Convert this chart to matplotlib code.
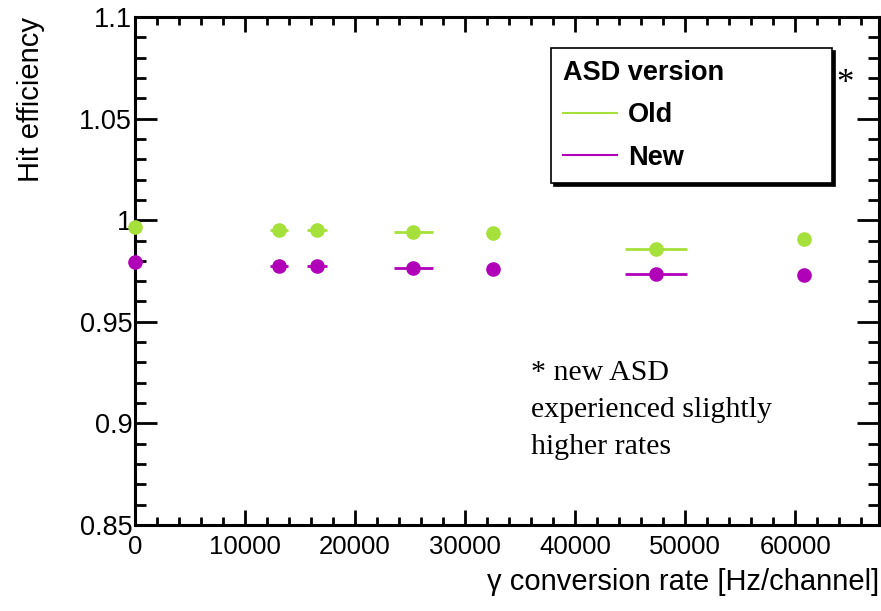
import numpy as np
import matplotlib
matplotlib.use("Agg")
import matplotlib.pyplot as plt
from matplotlib.lines import Line2D
from matplotlib.ticker import MultipleLocator

plt.rcParams['font.family'] = ['Liberation Sans', 'DejaVu Sans']

# gamma conversion rate [Hz/channel] and hit efficiency
rate = [0, 13100, 16550, 25300, 32550, 47350, 60800]
rate_err = [0, 800, 900, 1750, 0, 2850, 0]
eff_old = [0.9967, 0.9951, 0.9951, 0.9942, 0.9936, 0.9857, 0.9906]
eff_new = [0.9793, 0.9773, 0.9773, 0.9764, 0.9759, 0.9734, 0.9730]

col_old = '#a6e03a'
col_new = '#b000b8'

fig = plt.figure(figsize=(8.81, 6.11), dpi=100)
ax = fig.add_axes([0.1532, 0.1407, 0.8445, 0.8315])

for y, c in [(eff_old, col_old), (eff_new, col_new)]:
    ax.errorbar(rate, y, xerr=rate_err, fmt='o', color=c, ms=9.5,
                elinewidth=2, capsize=0, clip_on=False, zorder=3)

ax.set_xlim(0, 67600)
ax.set_ylim(0.85, 1.1)
ax.xaxis.set_minor_locator(MultipleLocator(2000))
ax.yaxis.set_minor_locator(MultipleLocator(0.01))
ax.set_yticks([0.85, 0.9, 0.95, 1.0, 1.05, 1.1])
ax.set_yticklabels(['0.85', '0.9', '0.95', '1', '1.05', '1.1'])
ax.set_xticks([0, 10000, 20000, 30000, 40000, 50000, 60000])
ax.set_xticklabels(['0', '10000', '20000', '30000', '40000', '50000', '60000'])

for s in ax.spines.values():
    s.set_linewidth(2.2)
ax.tick_params(axis='both', which='both', direction='in', top=True, right=True, width=2)
ax.tick_params(axis='y', which='major', length=16, pad=2, labelsize=19.5)
ax.tick_params(axis='y', which='minor', length=8)
ax.tick_params(axis='x', which='major', length=11, pad=7, labelsize=18.5)
ax.tick_params(axis='x', which='minor', length=5.5)

ax.set_xlabel('γ conversion rate [Hz/channel]', fontsize=21, loc='right')
ax.xaxis.set_label_coords(1.0, -0.085)
ax.set_ylabel('Hit efficiency', fontsize=21, loc='top')
ax.yaxis.set_label_coords(-0.121, 1.0)

handles = [Line2D([], [], color=col_old, lw=1.5), Line2D([], [], color=col_new, lw=1.5)]
leg = ax.legend(handles, ['Old', 'New'], title='ASD version', loc='upper left',
                bbox_to_anchor=(0.559, 0.689, 0.378, 0.25), mode='expand',
                borderaxespad=0, frameon=True, fancybox=False,
                shadow={'color': 'black', 'alpha': 1}, edgecolor='black',
                prop={'weight': 'bold', 'size': 19.5}, handlelength=2.0,
                handletextpad=0.4, borderpad=0.45, labelspacing=0.6,
                alignment='left')
leg.get_title().set_fontweight('bold')
leg.get_title().set_fontsize(19.5)
leg.get_frame().set_linewidth(1.2)

ax.text(0.943, 0.9, '*', transform=ax.transAxes, fontsize=25,
        family='Liberation Serif', ha='left', va='top')
ax.text(0.532, 0.325, '* new ASD\nexperienced slightly\nhigher rates',
        transform=ax.transAxes, fontsize=21.5, family='Liberation Serif',
        ha='left', va='top', linespacing=1.55)

fig.savefig('out.png', dpi=100)
